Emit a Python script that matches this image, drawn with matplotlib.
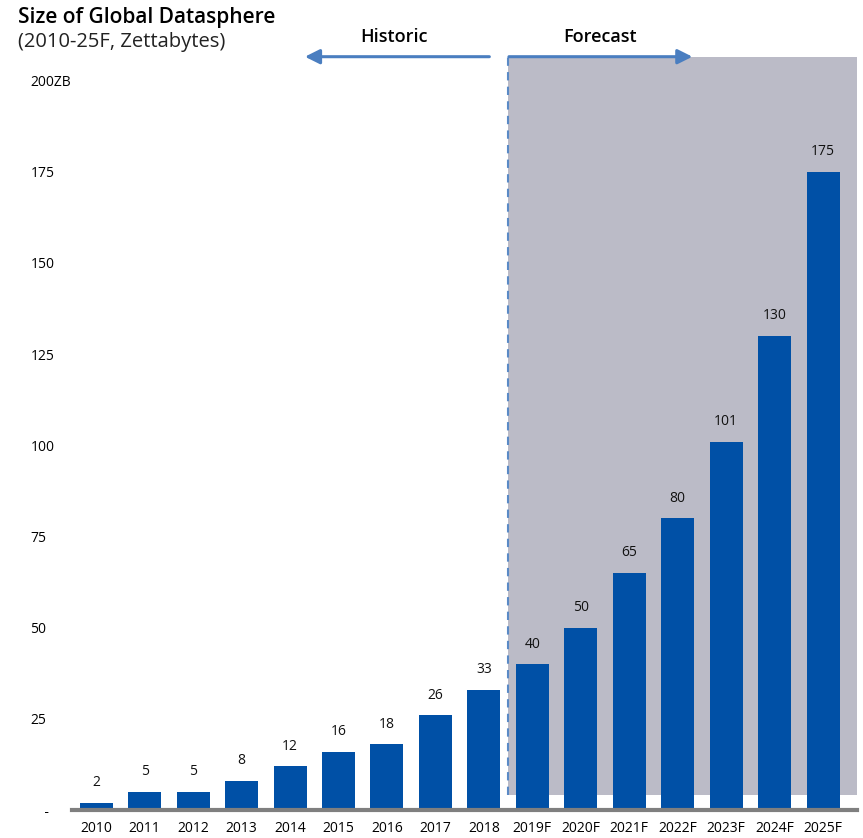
import matplotlib
matplotlib.use("Agg")
import matplotlib.pyplot as plt

# data
years = ["2010", "2011", "2012", "2013", "2014", "2015", "2016", "2017", "2018",
         "2019F", "2020F", "2021F", "2022F", "2023F", "2024F", "2025F"]
zettabytes = [2, 5, 5, 8, 12, 16, 18, 26, 33, 40, 50, 65, 80, 101, 130, 175]
ytick_vals = [0, 25, 50, 75, 100, 125, 150, 175, 200]
ytick_labels = ["    -", "25", "50", "75", "100", "125", "150", "175", "200ZB"]

plt.rcParams["font.family"] = ["Open Sans", "DejaVu Sans"]

W, H = 863, 838
fig = plt.figure(figsize=(W / 100, H / 100), dpi=100)
ax = fig.add_axes([72 / W, (H - 810) / H, 785 / W, (810 - 56.7) / H])

bar_col = "#0050A6"
grey_bg = "#BBBBC7"

x = list(range(len(years)))
ax.set_xlim(-0.5, 15.7)
ax.set_ylim(0, 206.5)

# forecast shading + dashed divider
ax.axvspan(8.5, 15.7, ymin=4 / 206.5, ymax=1, color=grey_bg, zorder=0, lw=0)
ax.vlines(8.5, 4, 206.5, colors="#5A8AC6", linestyles=(0, (4, 3)), lw=1.5, zorder=1)

bars = ax.bar(x, zettabytes, width=0.68, color=bar_col, zorder=2)
for xi, v in zip(x, zettabytes):
    ax.annotate(str(v), (xi, v), xytext=(0, 9), textcoords="offset points",
                ha="center", va="bottom", fontsize=10, color="#111111")

ax.set_xticks(x)
ax.set_xticklabels(years, fontsize=10)
ax.set_yticks(ytick_vals)
ax.set_yticklabels(ytick_labels, fontsize=10, ha="left")
ax.tick_params(axis="y", length=0, pad=30)
ax.tick_params(axis="x", length=0, pad=8)

for s in ["top", "right", "left"]:
    ax.spines[s].set_visible(False)
ax.spines["bottom"].set_color("#7F7F7F")
ax.spines["bottom"].set_linewidth(3)
ax.spines["bottom"].set_zorder(3)

# historic / forecast arrows
arrow_col = "#4A7EC0"
ax.annotate("", xy=(4.25, 206.5), xytext=(8.17, 206.5),
            arrowprops=dict(arrowstyle="-|>", color=arrow_col, lw=2.2, mutation_scale=22),
            annotation_clip=False)
ax.annotate("", xy=(12.36, 206.5), xytext=(8.46, 206.5),
            arrowprops=dict(arrowstyle="-|>", color=arrow_col, lw=2.2, mutation_scale=22),
            annotation_clip=False)
ax.text(6.15, 209.5, "Historic", ha="center", va="bottom", fontsize=13,
        fontweight="semibold", color="#000000")
ax.text(10.4, 209.5, "Forecast", ha="center", va="bottom", fontsize=13,
        fontweight="semibold", color="#000000")

fig.text(18 / W, 1 - 17 / H, "Size of Global Datasphere", fontsize=15, fontweight="semibold",
         va="center", ha="left", color="#000000")
fig.text(18 / W, 1 - 42 / H, "(2010-25F, Zettabytes)", fontsize=14.5,
         va="center", ha="left", color="#222222")

fig.savefig("out.png", dpi=100)
